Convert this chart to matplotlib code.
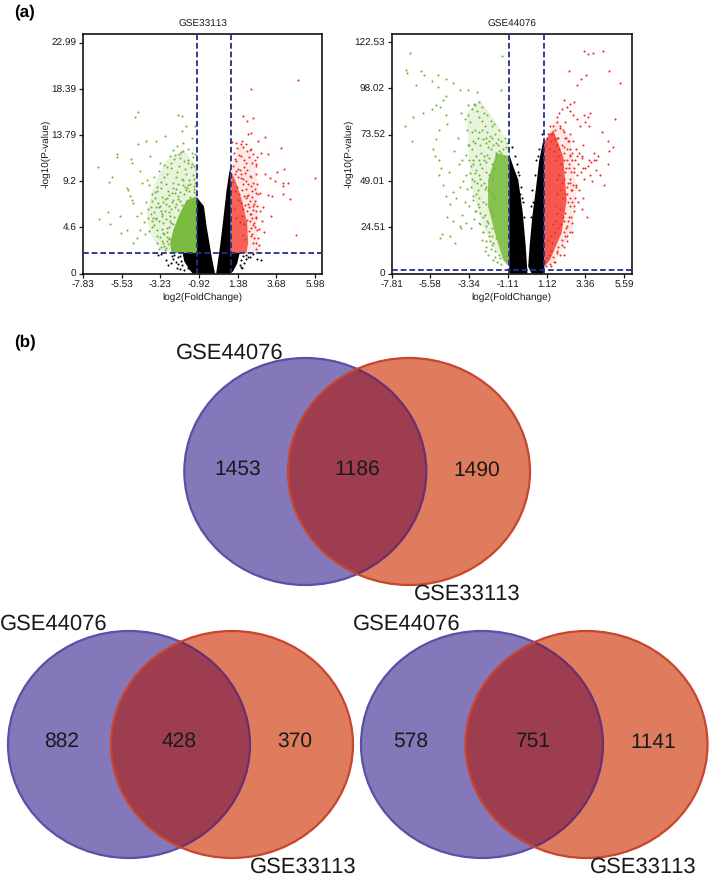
import matplotlib
matplotlib.use("Agg")
import matplotlib.pyplot as plt
from matplotlib.patches import Ellipse, Polygon

plt.rcParams['font.family'] = ['Liberation Sans', 'DejaVu Sans']
plt.rcParams['text.hinting'] = 'no_hinting'
plt.rcParams['text.hinting_factor'] = 1

W, H = 709, 882

# ---- volcano plots: values ----
left_title = "GSE33113"
left_xticks = [-7.83, -5.53, -3.23, -0.92, 1.38, 3.68, 5.98]
left_yticks = [0, 4.6, 9.2, 13.79, 18.39, 22.99]
left_cut_x = [-1.04, 0.96]
left_cut_y = 2.04

right_title = "GSE44076"
right_xticks = [-7.81, -5.58, -3.34, -1.11, 1.12, 3.36, 5.59]
right_yticks = [0, 24.51, 49.01, 73.52, 98.02, 122.53]
right_cut_x = [-1.03, 0.99]
right_cut_y = 1.9

# outlines of the parts too dense to tell single genes apart
left_black_a = [(-1.04, 7.6), (-0.87, 7.2), (-0.63, 6.7), (-0.47, 4.7), (-0.17, 1.7), (0.03, 0), (-1.3, 0),
                (-1.5, 0.4), (-1.8, 1.2), (-1.9, 2.04), (-1.04, 2.04)]
left_black_b = [(0.1, 0), (0.33, 2.7), (0.52, 5.35), (0.72, 8.3), (0.88, 10.1), (0.96, 10.6), (0.96, 2.04),
                (1.5, 2.04), (1.35, 1.0), (1.1, 0.2), (0.95, 0)]
left_green_mid = [(-1.04, 10.66), (-1.86, 12.3), (-2.85, 11.3), (-3.64, 8.67), (-4.04, 6.0), (-3.84, 4.0),
                  (-3.25, 2.36), (-2.55, 2.04), (-1.04, 2.04)]
left_green_core = [(-1.04, 7.7), (-1.66, 7.3), (-2.06, 6.0), (-2.45, 4.35), (-2.65, 3.0), (-2.55, 2.04), (-1.04, 2.04)]
left_red_mid = [(1.02, 10.3), (1.51, 13.0), (2.31, 11.66), (2.61, 8.67), (2.51, 4.68), (2.7, 2.04), (1.02, 2.04)]
left_red_core = [(1.0, 10.2), (1.3, 9.0), (1.65, 7.2), (1.95, 5.0), (2.0, 3.0), (1.9, 2.04), (0.98, 2.04)]

right_black_a = [(-1.03, 63), (-0.8, 56.7), (-0.51, 49.6), (-0.25, 32), (-0.08, 14.3), (0.02, 0), (-1.03, 0)]
right_black_b = [(0.06, 3.7), (0.14, 14.3), (0.3, 30.2), (0.5, 44.4), (0.7, 60), (0.9, 69), (0.99, 72), (0.99, 0), (0.26, 0)]
right_green_mid = [(-1.0, 67.3), (-1.77, 79.7), (-2.73, 92), (-3.5, 85), (-3.4, 69), (-3.21, 46), (-2.54, 25),
                   (-1.77, 10.8), (-1.05, 3.7)]
right_green_core = [(-1.05, 62), (-1.77, 63.8), (-2.25, 49.6), (-2.25, 35.5), (-1.86, 21.4), (-1.38, 7.2), (-1.05, 3.7)]
right_red_mid = [(1.01, 70.9), (1.7, 81.5), (2.47, 70.9), (2.85, 46), (2.66, 25), (1.7, 7.2), (1.01, 2.8)]
right_red_core = [(1.01, 70), (1.51, 76), (2.08, 62), (2.28, 39), (1.99, 21.4), (1.32, 7.2), (1.01, 3.7)]

# single genes
left_green_x = [-6.96, -5.83, -5.83, -4.54, -4.74, -4.99, -4.93, -4.1, -4.54, -6.08, -6.28, -2.95, -3.48, -1.96, -2.16, -1.96,
                -1.7, -6.32, -6.88, -6.22, -5.63, -5.57, -4.83, -5.13, -5.03, -4.83, -4.44, -4.34, -4.04, -5.23, -4.93, -4.64,
                -4.44, -5.23, -3.84, -3.25, -2.65, -2.25, -2.45, -1.86, -1.36, -1.16, -3.9, -3.7, -3.6, -3.4, -3.3, -3.2,
                -3.1, -3.0, -2.9, -2.8, -2.7, -2.6, -2.5, -2.4, -2.3, -2.2, -2.1, -2.0, -1.9, -1.8, -1.7, -1.6,
                -1.5, -1.4, -1.3, -1.2, -1.1, -1.5, -1.8, -2.3, -2.6, -2.9, -3.2, -3.5, -3.8, -4.1, -3.3, -3.6,
                -3.9, -3.1, -2.9, -2.7, -2.85, -3.15, -3.45, -3.0, -2.75, -3.3, -2.4, -2.2, -2.55, -2.75, -2.95, -3.05,
                -3.35, -2.65, -2.35, -2.15, -1.95, -1.75, -1.55, -1.35, -1.25, -1.15, -1.65, -1.85, -2.05, -2.25, -2.45, -2.7,
                -3.55, -3.75, -4.2, -4.35, -4.6, -4.15, -3.95, -3.65, -3.25, -3.4, -2.5, -2.8, -3.05, -2.6, -2.35, -2.15,
                -1.95, -1.7, -1.45, -1.2, -1.6, -1.3, -1.1, -2.05, -3.2, -3.5, -2.95, -2.72, -3.1, -2.85]
left_green_y = [10.56, 11.93, 11.59, 16.05, 15.58, 11.39, 11.0, 13.22, 12.89, 9.57, 9.1, 13.65, 13.15, 14.15, 15.75, 15.65,
                14.65, 6.11, 5.45, 4.92, 5.68, 4.02, 3.02, 8.34, 7.67, 7.01, 10.17, 9.0, 9.33, 8.5, 7.34, 5.68,
                4.35, 4.35, 11.66, 11.0, 11.66, 12.66, 12.3, 13.0, 13.5, 14.65, 8.8, 7.9, 9.6, 8.6, 10.2, 9.1,
                7.6, 10.8, 8.9, 9.9, 7.8, 10.5, 8.5, 11.4, 9.6, 7.4, 10.7, 12.1, 8.8, 11.2, 9.9, 12.4,
                8.2, 10.6, 11.6, 9.4, 10.3, 9.3, 7.9, 6.9, 6.4, 6.9, 6.2, 6.6, 5.9, 7.1, 5.2, 4.8,
                4.2, 4.4, 5.4, 4.6, 3.6, 3.2, 3.7, 2.7, 2.9, 2.4, 5.6, 6.3, 7.1, 8.2, 7.4, 5.0,
                7.0, 5.7, 8.0, 8.9, 9.4, 10.4, 11.0, 12.0, 8.7, 11.9, 8.5, 9.3, 11.5, 10.1, 9.0, 6.1,
                8.1, 7.2, 5.1, 6.0, 3.5, 3.9, 6.4, 5.5, 6.7, 3.0, 4.9, 3.2, 4.0, 5.0, 6.6, 7.7,
                6.8, 8.3, 7.6, 8.4, 8.8, 9.8, 7.9, 7.2, 2.6, 5.4, 2.3, 3.4, 5.9, 4.1]
left_green_more = [(-3.8, 6.6), (-3.95, 5.5), (-3.7, 5.2), (-3.55, 7.5), (-3.4, 8.2), (-3.2, 8.5), (-3.0, 9.6), (-2.8, 10.6),
                   (-2.6, 11.0), (-2.35, 11.8), (-2.1, 11.9), (-1.85, 12.2), (-1.6, 11.3), (-1.35, 10.9), (-1.2, 10.7),
                   (-3.45, 4.3), (-3.25, 3.6), (-3.05, 3.0), (-2.9, 2.5), (-3.6, 6.1), (-3.3, 6.6), (-3.05, 7.1),
                   (-2.8, 7.5), (-2.55, 8.0), (-2.3, 8.4), (-2.05, 8.1), (-1.75, 8.6), (-1.45, 8.9), (-1.25, 8.1),
                   (-1.15, 9.0), (-3.7, 4.6), (-3.5, 5.5), (-3.15, 5.7), (-2.95, 6.2), (-2.7, 6.7), (-2.45, 7.3),
                   (-2.65, 5.2), (-2.85, 4.5), (-3.0, 3.9), (-2.7, 3.5)]

left_red_x = [4.97, 2.2, 2.3, 1.7, 1.95, 2.0, 2.2, 3.0, 2.6, 3.95, 4.15, 3.2, 2.55, 2.75, 3.3, 3.6, 4.4, 5.98, 4.1, 3.4,
              3.0, 3.7, 4.05, 3.2, 2.7, 2.9, 3.35, 4.1, 4.5, 4.85, 1.05, 1.15, 1.25, 1.35, 1.45, 1.55, 1.65, 1.75, 1.85, 1.95,
              2.05, 2.15, 2.25, 2.4, 2.5, 1.1, 1.2, 1.3, 1.4, 1.5, 1.6, 1.7, 1.8, 1.9, 2.0, 2.1, 2.2, 2.3, 2.4, 2.6,
              1.08, 1.22, 1.36, 1.48, 1.62, 1.74, 1.88, 2.02, 2.14, 2.26, 2.38, 2.55, 1.42, 1.58, 1.72, 1.84, 1.96, 2.08, 2.18, 2.32,
              2.45, 2.7, 2.85, 1.18, 1.28, 1.52, 1.66, 1.78, 1.92, 2.12, 2.28, 2.42, 1.68, 1.82, 2.06, 2.22, 2.36, 2.5, 2.65, 2.95]
left_red_y = [19.3, 18.4, 15.5, 15.7, 15.2, 13.9, 14.0, 13.6, 13.2, 12.5, 10.4, 11.9, 11.6, 12.0, 9.5, 9.2, 9.0, 9.5, 8.7, 7.7,
              9.9, 10.1, 9.0, 7.8, 8.0, 6.6, 5.7, 7.9, 7.4, 3.8, 13.1, 12.0, 13.0, 12.5, 11.8, 12.9, 13.2, 11.3, 11.0, 12.2,
              11.6, 12.4, 11.0, 11.3, 10.7, 10.7, 9.9, 10.2, 9.6, 10.3, 9.9, 9.4, 10.0, 9.2, 8.9, 9.7, 8.7, 9.0, 8.4, 7.9,
              9.1, 8.2, 8.6, 7.9, 8.3, 7.7, 7.5, 7.8, 7.2, 7.6, 6.9, 6.7, 7.3, 7.0, 6.4, 6.8, 6.2, 6.6, 5.9, 6.3,
              5.6, 6.2, 5.2, 6.4, 5.5, 5.1, 5.7, 4.9, 5.3, 5.2, 4.8, 4.6, 3.8, 3.4, 4.2, 3.9, 3.5, 3.0, 4.4, 4.1]
left_red_more = [(1.7, 12.6), (1.9, 12.9), (2.1, 12.3), (2.3, 11.9), (2.45, 10.9), (2.5, 9.9), (2.55, 8.9), (2.45, 8.0),
                 (2.4, 7.2), (2.5, 6.2), (2.45, 5.5), (2.35, 5.0), (2.55, 4.3), (2.6, 3.5), (2.65, 2.8), (2.5, 2.4),
                 (2.3, 3.0), (2.2, 3.7), (2.15, 4.5), (2.1, 5.9), (2.0, 6.9), (1.95, 7.7), (1.85, 8.4), (1.7, 8.9),
                 (1.55, 9.5), (1.4, 10.4), (1.3, 11.2), (1.2, 11.4), (1.55, 11.7), (1.75, 10.6), (1.95, 10.3),
                 (2.15, 9.6), (2.25, 8.2), (2.3, 6.7), (2.25, 5.5)]

left_black_x = [-2.9, -2.75, -2.55, -3.2, -3.35, -2.25, -2.05, 2.0, 2.3, 2.55, 2.75, 1.75, 1.55, -1.8, -1.55,
                -2.6, -2.45, -2.3, -2.15, -2.0, -1.95, -2.4, -2.2, -2.05, 1.7, 1.85, 1.6, 1.5, 1.65, 1.9, 2.1]
left_black_y = [1.3, 0.8, 1.7, 1.9, 1.8, 0.5, 0.4, 1.6, 1.9, 1.4, 1.3, 1.0, 0.6, 0.3, 0.5,
                1.0, 1.4, 1.1, 1.6, 1.2, 0.8, 1.8, 0.9, 1.7, 1.7, 1.4, 1.3, 0.8, 0.5, 1.8, 1.6]

right_green_x = [-6.75, -7.0, -6.95, -6.12, -5.95, -6.38, -5.5, -5.15, -5.15, -4.65, -4.7, -4.3, -3.9, -3.42, -2.9, -1.5,
                 -1.45, -7.05, -6.6, -6.0, -6.65, -5.5, -5.25, -5.05, -4.85, -4.7, -4.6, -5.1, -5.25, -5.4, -5.3, -5.1,
                 -4.95, -5.1, -4.85, -4.65, -4.45, -4.3, -4.5, -4.2, -4.0, -3.8, -3.6, -3.4, -3.3, -3.2, -3.05, -2.9,
                 -2.75, -2.6, -2.45, -2.3, -2.15, -2.0, -1.85, -1.7, -3.5, -3.35, -3.15, -3.0, -2.85, -2.7, -2.55, -2.4,
                 -2.25, -2.1, -1.95, -1.8, -3.95, -3.75, -3.55, -3.25, -3.1, -2.95, -2.8, -2.65, -2.5, -2.35, -2.2, -2.05,
                 -1.9, -4.1, -3.9, -3.7, -3.45, -3.2, -3.0, -2.8, -2.6, -2.4, -2.2, -2.0, -3.6, -3.35, -3.1, -2.85,
                 -2.65, -2.45, -2.25, -2.05, -1.9, -3.0, -2.75, -2.55, -2.3, -2.1, -1.95, -4.45, -4.15, -3.85, -4.9, -5.05,
                 -4.6, -4.3, -3.8, -3.5, -2.55, -2.35, -2.15, -2.6, -2.4, -2.2, -2.0, -1.8, -2.7, -2.45, -2.25, -2.05,
                 -1.85, -1.65, -1.55, -1.95, -1.75, -2.85, -3.05, -3.25, -3.75, -1.6, -1.7, -1.8, -1.5, -1.4, -1.3, -1.2]
right_green_y = [117, 108, 106, 107, 105, 100, 102, 105, 99, 103, 94, 101, 97, 97, 96, 97,
                 115, 78, 83, 85, 70, 87, 89, 88, 92, 84, 79, 76, 71, 66, 62, 60,
                 56, 52, 47, 41, 37, 43, 54, 65, 72, 85, 82, 89, 80, 75, 90, 86,
                 83, 81, 78, 75, 73, 78, 74, 71, 63, 68, 70, 76, 72, 68, 71, 69,
                 67, 66, 68, 64, 58, 60, 52, 57, 60, 62, 60, 64, 62, 59, 61, 58,
                 56, 40, 46, 49, 45, 50, 53, 52, 56, 54, 52, 50, 38, 36, 41, 44,
                 47, 45, 44, 42, 40, 33, 35, 30, 28, 33, 31, 20, 16, 25, 21, 19,
                 30, 28, 24, 27, 22, 25, 17, 18, 14, 20, 24, 19, 26, 12, 10, 15,
                 12, 10, 8, 7, 6, 37, 29, 24, 31, 65, 68, 63, 64, 66, 62, 67]
right_green_more = [(-3.4, 84), (-3.2, 87), (-3.0, 89), (-2.8, 91), (-2.6, 88), (-2.5, 85), (-2.3, 84), (-2.1, 81), (-1.9, 79),
                    (-1.6, 76), (-1.3, 72), (-1.15, 69), (-3.45, 76), (-3.4, 68), (-3.35, 60), (-3.3, 53), (-3.25, 46),
                    (-3.1, 39), (-2.95, 33), (-2.75, 27), (-2.55, 22), (-2.35, 17), (-2.1, 13), (-1.85, 9), (-1.5, 5),
                    (-3.2, 66), (-3.0, 69), (-2.8, 75), (-2.6, 76), (-2.4, 72), (-2.2, 70), (-2.0, 72), (-1.8, 69),
                    (-1.5, 70), (-3.15, 58), (-2.95, 55), (-2.7, 58), (-2.5, 60), (-2.3, 63), (-3.05, 49), (-2.9, 48),
                    (-2.7, 50), (-2.5, 48), (-2.35, 46), (-2.95, 42), (-2.75, 40), (-2.55, 38), (-2.35, 37), (-2.7, 32),
                    (-2.45, 31), (-2.25, 27), (-2.0, 20), (-2.2, 22), (-1.95, 16)]

right_red_x = [3.3, 3.5, 3.8, 4.4, 2.4, 5.35, 4.7, 2.85, 3.1, 3.4, 5.05, 3.3, 3.5, 3.65, 4.3, 4.65, 4.95, 4.7, 4.65, 3.85,
               3.55, 3.85, 4.1, 3.7, 3.5, 3.25, 3.15, 2.9, 2.7, 2.5, 2.3, 2.15, 2.0, 1.85, 1.7, 2.2, 2.45, 2.65, 2.85, 3.05,
               1.15, 1.3, 1.45, 1.6, 1.75, 1.9, 2.05, 2.2, 2.35, 2.5, 2.65, 2.8, 3.0, 3.2, 1.25, 1.4, 1.55, 1.7, 1.85, 2.0,
               2.15, 2.3, 2.45, 2.6, 2.75, 2.95, 3.15, 3.35, 1.65, 1.8, 1.95, 2.1, 2.25, 2.4, 2.55, 2.7, 2.9, 3.1, 3.3, 3.6,
               1.7, 1.85, 2.0, 2.15, 2.3, 2.45, 2.6, 2.8, 3.0, 3.25, 1.75, 1.9, 2.05, 2.2, 2.35, 2.5, 2.7, 2.95, 3.15, 1.6,
               1.75, 1.9, 2.05, 2.2, 2.35, 2.55, 1.5, 1.65, 1.8, 1.95, 2.1, 2.25, 1.35, 1.2, 1.45, 1.6, 1.25, 1.4, 1.8, 2.1,
               2.6, 1.05, 1.15, 1.5, 1.7, 2.0, 2.3, 1.1, 1.3, 1.55, 1.05, 1.2, 3.35, 3.55, 4.0, 4.2, 3.75, 3.95, 4.45, 3.45]
right_red_y = [118, 116, 117, 118, 107, 101, 107, 100, 103, 105, 82, 84, 83, 85, 75, 70, 67, 65, 58, 64,
               60, 60, 62, 59, 57, 56, 61, 62, 91, 90, 88, 92, 87, 85, 83, 80, 86, 84, 82, 78,
               72, 78, 74, 76, 72, 78, 76, 72, 70, 74, 70, 66, 64, 68, 66, 70, 65, 68, 66, 68,
               64, 66, 62, 64, 60, 58, 62, 56, 60, 62, 58, 60, 56, 58, 54, 56, 52, 54, 50, 52,
               50, 52, 48, 50, 46, 48, 44, 46, 44, 40, 42, 44, 40, 42, 38, 40, 36, 38, 34, 36,
               32, 34, 30, 32, 28, 30, 26, 28, 24, 26, 22, 24, 20, 18, 16, 22, 10, 12, 14, 10,
               22, 6, 8, 9, 11, 18, 20, 4, 5, 6, 68, 74, 80, 78, 55, 52, 49, 60, 47, 30]
right_red_more = [(1.3, 74), (1.5, 78), (1.7, 80), (1.9, 77), (2.1, 75), (2.25, 72), (2.4, 70), (2.5, 66), (2.6, 60), (2.7, 54),
                  (2.8, 47), (2.75, 40), (2.7, 33), (2.6, 27), (2.45, 22), (2.3, 17), (2.1, 14), (1.9, 10), (1.6, 6), (1.35, 4),
                  (2.3, 60), (2.4, 56), (2.5, 50), (2.55, 44), (2.5, 36), (2.4, 30), (2.3, 25), (2.2, 20), (2.15, 28), (2.3, 42),
                  (2.35, 48), (2.2, 54), (2.1, 67), (1.8, 72), (1.6, 71), (2.45, 63), (2.65, 47), (2.6, 38), (2.0, 15), (1.75, 12)]

right_black_x = [-0.7, -0.6, -0.45, -0.35, -0.55, -0.4, -0.25, 0.2, 0.3, 0.45, 0.6, 0.5, 0.7, -0.9, 0.85, -0.3, -0.2, 0.25, 0.35]
right_black_y = [62, 58, 52, 46, 54, 42, 38, 36, 44, 52, 62, 60, 66, 67, 74, 40, 30, 30, 38]

# ---- venn diagrams ----
venn_names = ["GSE44076", "GSE33113"]
venn_counts = [[1453, 1186, 1490], [882, 428, 370], [578, 751, 1141]]

GREEN = "#6FB52E"
RED = "#F4281C"
NAVY = "#22308C"
INK = "#1a1a1a"

fig = plt.figure(figsize=(W / 100, H / 100), dpi=100)


def px_axes(left, top, right, bottom):
    return fig.add_axes([left / W, 1 - bottom / H, (right - left) / W, (bottom - top) / H])


def volcano(ax, title, xticks, yticks, xlim, ylim, cut_x, cut_y, polys, pts):
    for poly, col, alpha, z in polys:
        ax.add_patch(Polygon(poly, closed=True, fc=col, ec="none", alpha=alpha, zorder=z))
    for xs, ys, col in pts:
        ax.scatter(xs, ys, s=2.2, c=col, lw=0, zorder=2.5)
    for c in cut_x:
        ax.axvline(c, color=NAVY, lw=1.3, dashes=(3.2, 1.6), zorder=4)
    ax.axhline(cut_y, color=NAVY, lw=1.3, dashes=(3.2, 1.6), zorder=4)
    ax.set_xlim(*xlim)
    ax.set_ylim(*ylim)
    ax.set_xticks(xticks)
    ax.set_xticklabels([f"{t:.2f}" for t in xticks])
    ax.set_yticks(yticks)
    ax.set_yticklabels([f"{t:g}" for t in yticks])
    ax.tick_params(direction="out", length=3, width=0.9, labelsize=7, pad=1.8, colors=INK)
    ax.set_xlabel("log2(FoldChange)", fontsize=7, labelpad=2.5, color=INK)
    ax.set_ylabel("-log10(P-value)", fontsize=7, labelpad=0.5, color=INK)
    ax.set_title(title, fontsize=7, pad=5, color=INK)
    for s in ax.spines.values():
        s.set_linewidth(1.1)


ax1 = px_axes(83, 34, 322, 273.5)
volcano(ax1, left_title, left_xticks, left_yticks, (-7.83, 6.4), (0, 23.85), left_cut_x, left_cut_y,
        [(left_green_mid, GREEN, 0.16, 1), (left_red_mid, RED, 0.1, 1), (left_green_core, GREEN, 0.9, 2),
         (left_red_core, RED, 0.7, 2), (left_black_a, "black", 1, 3), (left_black_b, "black", 1, 3)],
        [(left_green_x, left_green_y, GREEN), (left_red_x, left_red_y, RED), (left_black_x, left_black_y, "black"),
         (*zip(*left_green_more), GREEN), (*zip(*left_red_more), RED)])

ax2 = px_axes(391.7, 34, 631.7, 273.5)
volcano(ax2, right_title, right_xticks, right_yticks, (-7.81, 6.03), (0, 126.8), right_cut_x, right_cut_y,
        [(right_green_mid, GREEN, 0.16, 1), (right_red_mid, RED, 0.1, 1), (right_green_core, GREEN, 0.8, 2),
         (right_red_core, RED, 0.75, 2), (right_black_a, "black", 1, 3), (right_black_b, "black", 1, 3)],
        [(right_green_x, right_green_y, GREEN), (right_red_x, right_red_y, RED), (right_black_x, right_black_y, "black"),
         (*zip(*right_green_more), GREEN), (*zip(*right_red_more), RED)])

# overlay in pixel coordinates for the venns and panel letters
ov = fig.add_axes([0, 0, 1, 1], zorder=5)
ov.set_xlim(0, W)
ov.set_ylim(H, 0)
ov.axis("off")
ov.patch.set_alpha(0)

ov.text(14, 12, "(a)", fontsize=12.5, fontweight="bold", va="center")
ov.text(14, 342, "(b)", fontsize=12.5, fontweight="bold", va="center")


def venn(counts, x_blue, x_red, cy, count_xy, name_a_xy, name_b_xy):
    w, h = 242, 227
    ov.add_patch(Ellipse((x_blue, cy), w, h, fc="#8478BA", ec="#5A50A8", lw=1.6))
    ov.add_patch(Ellipse((x_red, cy), w, h, fc="#DF7C5E", ec="none"))
    both = Ellipse((x_red, cy), w, h, fc="#9E3D50", ec="none")
    ov.add_patch(both)
    both.set_clip_path(Ellipse((x_blue, cy), w, h, transform=ov.transData))
    arc = Ellipse((x_blue, cy), w, h, fc="none", ec="#6A2F72", lw=1.6)
    ov.add_patch(arc)
    arc.set_clip_path(Ellipse((x_red, cy), w, h, transform=ov.transData))
    ov.add_patch(Ellipse((x_red, cy), w, h, fc="none", ec="#C8452F", lw=1.6))
    for val, (x, y) in zip(counts, count_xy):
        ov.text(x, y, str(val), fontsize=15.3, ha="center", va="center", color=INK)
    ov.text(*name_a_xy, venn_names[0], fontsize=15.5, ha="center", va="center", color=INK)
    ov.text(*name_b_xy, venn_names[1], fontsize=15.5, ha="center", va="center", color=INK)


venn(venn_counts[0], 305.3, 409, 471.5, [(238, 469), (357, 469), (477, 470)], (230, 353), (467, 594))
venn(venn_counts[1], 129, 232, 744.5, [(62, 741), (179, 741), (295, 741)], (54, 624), (303, 867))
venn(venn_counts[2], 482, 586.5, 744.5, [(411, 741), (533, 741), (653, 743)], (407, 624), (643, 867))

fig.savefig("out.png", dpi=100)
